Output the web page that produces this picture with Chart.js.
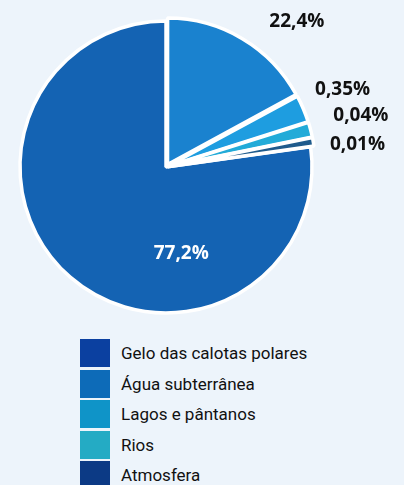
<!DOCTYPE html>
<html>
<head>
<meta charset="utf-8">
<script src="https://cdn.jsdelivr.net/npm/chart.js@4"></script>
<style>
  html, body { margin: 0; padding: 0; }
  body { width: 404px; height: 485px; background: #edf4fb; position: relative; overflow: hidden; }
  #wrap { position: absolute; left: 0; top: 0; width: 404px; height: 334px; }
  #legenda { position: absolute; left: 80px; top: 339px; }
  .item { display: flex; align-items: center; height: 28px; margin-bottom: 2.5px; }
  .caixa { width: 30px; height: 28px; margin-right: 11px; }
  .texto { font-family: Roboto, sans-serif; font-size: 17px; color: #111111; }
</style>
</head>
<body>
<div id="wrap"><canvas id="grafico"></canvas></div>
<div id="legenda"></div>
<script>
var categorias = ['Gelo das calotas polares', 'Água subterrânea', 'Lagos e pântanos', 'Rios', 'Atmosfera'];
var percentuais = [77.2, 22.4, 0.35, 0.04, 0.01];
// the figure is not drawn to scale: sector sizes as they appear, in degrees
var angulosDesenhados = [278, 61.5, 11, 6, 3.5];

var coresFatias = ['#1463b3', '#1a82cf', '#1e9de0', '#22abd8', '#1f5b8c'];
var coresLegenda = ['#0b40a0', '#0d6bb8', '#0f94c8', '#24abc4', '#0c3a85'];
var corTexto = ['#ffffff', '#111111', '#111111', '#111111', '#111111'];
// label placement: angle from top (deg), distance as share of radius
var posRotulo = [[170, 0.6], [42, 1.34], [66.4, 1.32], [75.3, 1.38], [83.4, 1.32]];

function formata(v) {
    return String(v).replace('.', ',') + '%';
}

var rotulos = {
    id: 'rotulos',
    afterDatasetsDraw(chart) {
        var ctx = chart.ctx;
        var arcos = chart.getDatasetMeta(0).data;
        var cx = arcos[0].x, cy = arcos[0].y, r = arcos[0].outerRadius;
        ctx.save();
        ctx.font = '700 19px "Open Sans", sans-serif';
        ctx.textAlign = 'center';
        ctx.textBaseline = 'middle';
        percentuais.forEach((v, i) => {
            var a = posRotulo[i][0] * Math.PI / 180;
            var d = posRotulo[i][1] * r;
            ctx.fillStyle = corTexto[i];
            ctx.fillText(formata(v), cx + Math.sin(a) * d, cy - Math.cos(a) * d);
        });
        ctx.restore();
    }
};

new Chart(document.getElementById('grafico'), {
    type: 'pie',
    data: {
        labels: categorias,
        datasets: [{
            data: angulosDesenhados,
            backgroundColor: coresFatias,
            borderColor: '#ffffff',
            borderWidth: 3.5,
            offset: [0, 12, 7, 7, 7]
        }]
    },
    options: {
        responsive: true,
        maintainAspectRatio: false,
        animation: false,
        events: [],
        rotation: 360 - angulosDesenhados[0],
        radius: 146,
        layout: { padding: { right: 72 } },
        plugins: {
            legend: { display: false },
            tooltip: { enabled: false }
        }
    },
    plugins: [rotulos]
});

var leg = document.getElementById('legenda');
categorias.forEach((c, i) => {
    var item = document.createElement('div');
    item.className = 'item';
    item.innerHTML = '<div class="caixa" style="background:' + coresLegenda[i] + '"></div><span class="texto">' + c + '</span>';
    leg.appendChild(item);
});
</script>
</body>
</html>
